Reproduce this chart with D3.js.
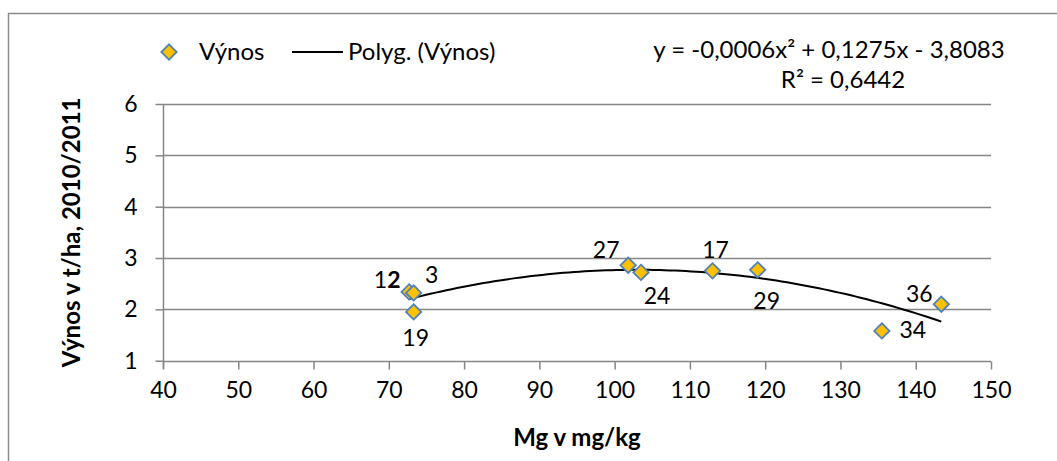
<!DOCTYPE html>
<html>
<head>
<meta charset="utf-8">
<script src="https://cdn.jsdelivr.net/npm/d3@7"></script>
<style>
  html, body { margin: 0; padding: 0; background: #fff; }
  svg { display: block; font-family: Lato, "Open Sans", sans-serif; }
</style>
</head>
<body>
<svg id="chart" width="1057" height="461"></svg>
<script>
// Field plots: Mg content (mg/kg) against yield (t/ha), season 2010/2011
const plotIds = ["12", "3", "19", "27", "24", "17", "29", "36", "34"];
const mgValues = [72.7, 73.3, 73.3, 101.8, 103.5, 113.0, 119.0, 143.4, 135.5];
const yieldValues = [2.34, 2.32, 1.95, 2.86, 2.72, 2.75, 2.77, 2.10, 1.58];

const xTicks = [40, 50, 60, 70, 80, 90, 100, 110, 120, 130, 140, 150];
const yTicks = [1, 2, 3, 4, 5, 6];

const svg = d3.select("#chart");
const W = 1057, H = 461;
const margin = { left: 163, right: 1057 - 991, top: 104, bottom: 461 - 360.7 };

const x = d3.scaleLinear().domain([40, 150]).range([margin.left, W - margin.right]);
const y = d3.scaleLinear().domain([1, 6]).range([H - margin.bottom, margin.top]);

const gridColor = "#868686";
const fontSize = 24;
const numSize = 23;

// chart frame
svg.append("rect")
  .attr("x", 8.5).attr("y", 13.5)
  .attr("width", 1100).attr("height", 500)
  .attr("fill", "#fff").attr("stroke", "#8c8c8c").attr("stroke-width", 1.5);

// horizontal gridlines
svg.append("g")
  .selectAll("line")
  .data(yTicks.filter(d => d > 1))
  .join("line")
  .attr("x1", x(40)).attr("x2", x(150))
  .attr("y1", d => Math.round(y(d)) + 0.5).attr("y2", d => Math.round(y(d)) + 0.5)
  .attr("stroke", gridColor).attr("stroke-width", 1.5);

// x axis
const xAxis = svg.append("g")
  .attr("transform", `translate(0,${Math.round(y(1)) + 0.5})`)
  .call(d3.axisBottom(x).tickValues(xTicks).tickSize(8).tickPadding(12).tickFormat(d3.format("d")));
xAxis.select(".domain").attr("stroke", gridColor).attr("stroke-width", 1.5)
  .attr("d", `M${x(40)},0H${x(150)}`);
xAxis.selectAll(".tick line").attr("stroke", gridColor).attr("stroke-width", 1.5);
xAxis.selectAll(".tick text").attr("font-size", numSize).attr("fill", "#000")
  .attr("font-family", "Lato, sans-serif");

// y axis
const yAxis = svg.append("g")
  .attr("transform", `translate(${Math.round(x(40)) + 0.5},0)`)
  .call(d3.axisLeft(y).tickValues(yTicks).tickSize(8).tickPadding(18).tickFormat(d3.format("d")));
yAxis.select(".domain").attr("stroke", gridColor).attr("stroke-width", 1.5)
  .attr("d", `M0,${y(6)}V${y(1) + 8}`);
yAxis.selectAll(".tick line").attr("stroke", gridColor).attr("stroke-width", 1.5);
yAxis.selectAll(".tick text").attr("font-size", numSize).attr("fill", "#000")
  .attr("font-family", "Lato, sans-serif");

// axis titles
svg.append("text")
  .attr("x", (x(40) + x(150)) / 2).attr("y", 446)
  .attr("text-anchor", "middle").attr("font-size", fontSize).attr("font-weight", "bold")
  .text("Mg v mg/kg");

svg.append("text")
  .attr("transform", `translate(80,${(y(1) + y(6)) / 2}) rotate(-90)`)
  .attr("text-anchor", "middle").attr("font-size", fontSize).attr("font-weight", "bold")
  .text("Výnos v t/ha, 2010/2011");

// second-order polynomial trend (least squares)
function quadFit(xs, ys) {
  const n = xs.length;
  let s = [0, 0, 0, 0, 0], t = [0, 0, 0];
  for (let i = 0; i < n; i++) {
    const xi = xs[i], yi = ys[i];
    for (let k = 0; k <= 4; k++) s[k] += Math.pow(xi, k);
    for (let k = 0; k <= 2; k++) t[k] += yi * Math.pow(xi, k);
  }
  // normal equations, unknowns [c, b, a]
  const M = [
    [s[0], s[1], s[2], t[0]],
    [s[1], s[2], s[3], t[1]],
    [s[2], s[3], s[4], t[2]]
  ];
  for (let i = 0; i < 3; i++) {
    let p = i;
    for (let r = i + 1; r < 3; r++) if (Math.abs(M[r][i]) > Math.abs(M[p][i])) p = r;
    [M[i], M[p]] = [M[p], M[i]];
    for (let r = 0; r < 3; r++) {
      if (r === i) continue;
      const f = M[r][i] / M[i][i];
      for (let c = i; c < 4; c++) M[r][c] -= f * M[i][c];
    }
  }
  const c0 = M[0][3] / M[0][0], c1 = M[1][3] / M[1][1], c2 = M[2][3] / M[2][2];
  return v => c0 + c1 * v + c2 * v * v;
}
const trend = quadFit(mgValues, yieldValues);
const [xMin, xMax] = d3.extent(mgValues);
const trendPts = d3.range(0, 101).map(i => {
  const v = xMin + (xMax - xMin) * i / 100;
  return [v, trend(v)];
});
svg.append("path")
  .datum(trendPts)
  .attr("fill", "none").attr("stroke", "#000").attr("stroke-width", 2)
  .attr("d", d3.line().x(d => x(d[0])).y(d => y(d[1])));

// points
const diamond = d3.symbol().type(d3.symbolDiamond2).size(150);
const points = plotIds.map((id, i) => ({ id, mg: mgValues[i], v: yieldValues[i] }));
svg.append("g")
  .selectAll("path")
  .data(points)
  .join("path")
  .attr("transform", d => `translate(${x(d.mg)},${y(d.v)})`)
  .attr("d", diamond)
  .attr("fill", "#FFC000").attr("stroke", "#4F81BD").attr("stroke-width", 1.8);

// point labels, offset by hand to avoid overlaps
const labelOffset = {
  "12": [-22, -4], "3": [18, -10], "19": [2, 34], "27": [-22, -7], "24": [16, 32],
  "17": [3, -13], "29": [9, 39], "36": [-22, -2], "34": [31, 7]
};
const labels = svg.append("g").attr("font-size", numSize).attr("text-anchor", "middle");
points.forEach(d => {
  const [dx, dy] = labelOffset[d.id];
  const t = labels.append("text")
    .attr("x", x(d.mg) + dx).attr("y", y(d.v) + dy);
  if (d.id === "12") {
    t.append("tspan").text("1");
    t.append("tspan").attr("font-weight", "bold").text("2");
  } else {
    t.text(d.id);
  }
});

// legend
const legend = svg.append("g");
legend.append("path")
  .attr("transform", "translate(169,52)")
  .attr("d", diamond)
  .attr("fill", "#FFC000").attr("stroke", "#4F81BD").attr("stroke-width", 1.8);
legend.append("text").attr("x", 199).attr("y", 60).attr("font-size", fontSize).text("Výnos");
legend.append("line")
  .attr("x1", 292).attr("x2", 343).attr("y1", 52).attr("y2", 52)
  .attr("stroke", "#000").attr("stroke-width", 2);
legend.append("text").attr("x", 348).attr("y", 60).attr("font-size", fontSize).text("Polyg. (Výnos)");

// regression equation
const eq = svg.append("g").attr("font-size", fontSize).attr("text-anchor", "middle");
eq.append("text").attr("x", 829).attr("y", 58).text("y = -0,0006x² + 0,1275x - 3,8083");
eq.append("text").attr("x", 843).attr("y", 88).text("R² = 0,6442");
</script>
</body>
</html>
